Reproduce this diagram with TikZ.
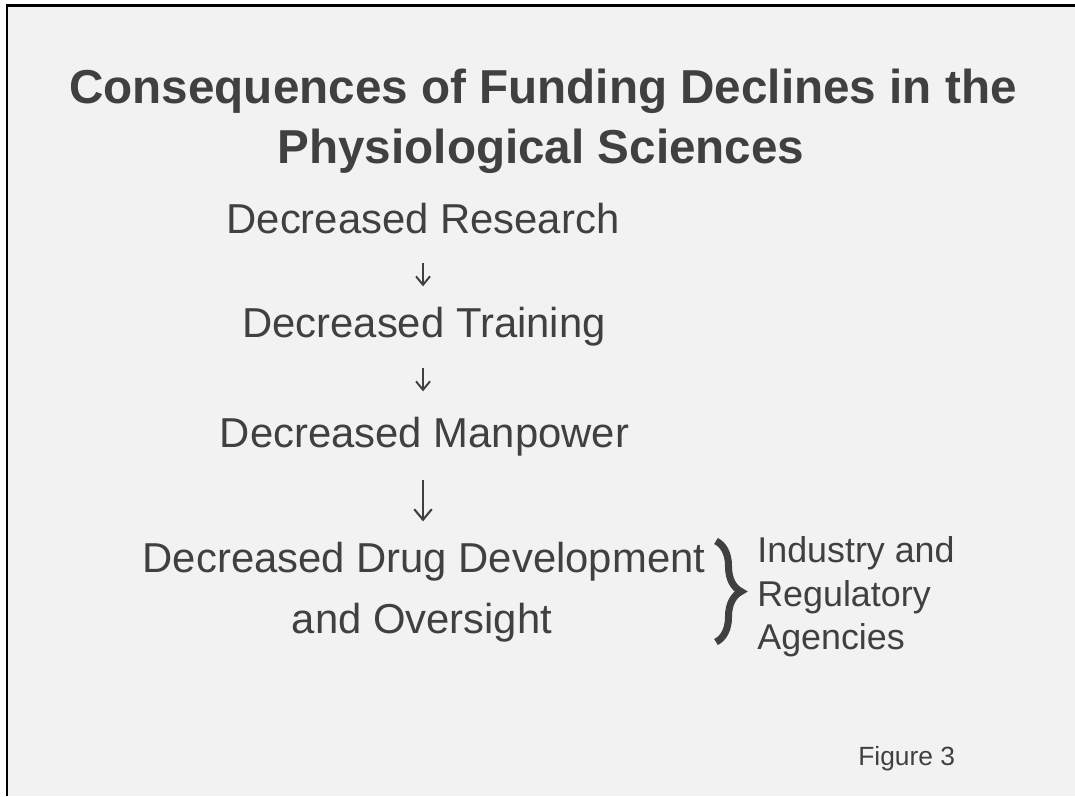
\documentclass[tikz,border=0pt]{standalone}
\usepackage{fontspec}
\setmainfont{Liberation Sans}
\usetikzlibrary{arrows.meta,decorations.pathreplacing}
\pgfdeclarelayer{backlayer}
\pgfdeclarelayer{edgelayer}
\pgfdeclarelayer{nodelayer}
\pgfsetlayers{backlayer,edgelayer,nodelayer,main}
\definecolor{ink}{HTML}{404040}
\definecolor{paper}{HTML}{F2F2F2}
\tikzset{font=\fontsize{23.8}{28}\selectfont}
\tikzstyle{none}=[inner sep=0pt]
\tikzstyle{heading}=[inner sep=0pt,anchor=base,text=ink,font=\fontsize{27.1}{32}\selectfont\bfseries]
\tikzstyle{stage}=[inner sep=0pt,anchor=base,text=ink]
\tikzstyle{side}=[inner sep=0pt,anchor=base west,text=ink,font=\fontsize{20.4}{24}\selectfont]
\tikzstyle{caption}=[inner sep=0pt,anchor=base west,text=ink,font=\fontsize{15}{18}\selectfont]
\tikzstyle{flow}=[draw=ink,line width=1.1pt,-{Straight Barb[length=0.17cm,width=0.28cm]}]
\tikzstyle{bigflow}=[draw=ink,line width=1.2pt,-{Straight Barb[length=0.21cm,width=0.35cm]}]
\tikzstyle{curly}=[draw=ink,line width=4pt,decorate,decoration={brace,amplitude=0.5cm}]

\begin{document}
\begin{tikzpicture}
	\useasboundingbox (0,0) rectangle (21.5,-15.92);
	\begin{pgfonlayer}{backlayer}
		\fill[paper] (0.14,-0.10) rectangle (21.5,-15.92);
		\draw[line width=1.7pt] (0.14,-15.92) -- (0.14,-0.10) -- (21.5,-0.10);
	\end{pgfonlayer}
	\begin{pgfonlayer}{nodelayer}
		\node [style=heading] (0) at (10.86, -2.06) {Consequences of Funding Declines in the};
		\node [style=heading] (1) at (10.82, -3.26) {Physiological Sciences};
		\node [style=stage] (2) at (8.46, -4.66) {Decreased Research};
		\node [style=stage] (3) at (8.48, -6.74) {Decreased Training};
		\node [style=stage] (4) at (8.49, -8.94) {Decreased Manpower};
		\node [style=stage] (5) at (8.48, -11.44) {Decreased Drug Development};
		\node [style=stage] (6) at (8.44, -12.66) {and Oversight};
		\node [style=none] (7) at (14.32, -10.82) {};
		\node [style=none] (8) at (14.32, -12.84) {};
		\node [style=side] (9) at (15.14, -11.24) {Industry and};
		\node [style=side] (10) at (15.14, -12.12) {Regulatory};
		\node [style=side] (11) at (15.14, -12.98) {Agencies};
		\node [style=caption] (12) at (17.16, -15.30) {Figure 3};
	\end{pgfonlayer}
	\begin{pgfonlayer}{edgelayer}
		\draw [style=flow, shorten <=0.58cm, shorten >=0.4cm] (2.south) to (2.south |- 3.north);
		\draw [style=flow, shorten <=0.44cm, shorten >=0.5cm] (2.south |- 3.south) to (2.south |- 4.north);
		\draw [style=bigflow, shorten <=0.48cm, shorten >=0.4cm] (2.south |- 4.south) to (2.south |- 5.north);
		\draw [style=curly] (7.center) to (8.center);
	\end{pgfonlayer}
\end{tikzpicture}
\end{document}
